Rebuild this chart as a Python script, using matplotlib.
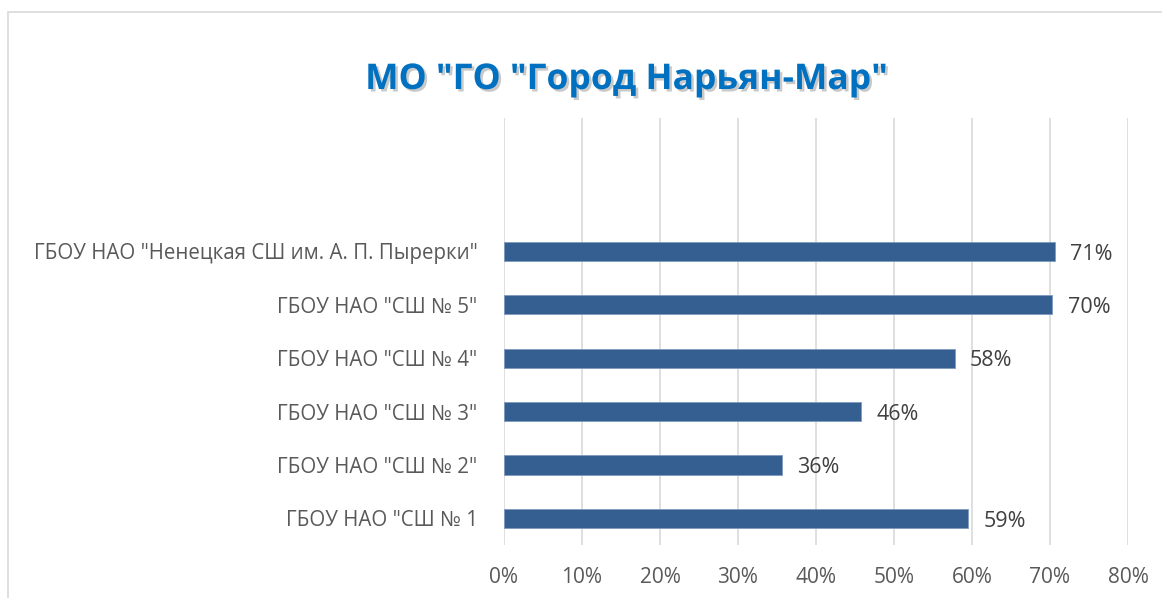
import matplotlib
matplotlib.use("Agg")
import matplotlib.pyplot as plt
import matplotlib.patheffects as pe
from matplotlib.patches import Rectangle

categories = ['ГБОУ НАО "СШ № 1', 'ГБОУ НАО "СШ № 2"', 'ГБОУ НАО "СШ № 3"',
              'ГБОУ НАО "СШ № 4"', 'ГБОУ НАО "СШ № 5"',
              'ГБОУ НАО "Ненецкая СШ им. А. П. Пырерки"']
values = [0.595, 0.356, 0.458, 0.578, 0.703, 0.706]
value_labels = ['59%', '36%', '46%', '58%', '70%', '71%']
xticks = [0, 0.1, 0.2, 0.3, 0.4, 0.5, 0.6, 0.7, 0.8]
xtick_labels = ['0%', '10%', '20%', '30%', '40%', '50%', '60%', '70%', '80%']
title = 'МО "ГО "Город Нарьян-Мар"'

W, H = 1162, 598
fig = plt.figure(figsize=(W / 100, H / 100), dpi=100)
fig.patch.set_facecolor('white')

# chart border
fig.patches.append(Rectangle((8 / W, -0.2), 1.2, 1.2 - 12 / H, transform=fig.transFigure,
                             fill=False, edgecolor='#D9D9D9', linewidth=1.2))

left, right, top, bottom = 504, 1128, 118, 545
ax = fig.add_axes([left / W, 1 - bottom / H, (right - left) / W, (bottom - top) / H])
n_slots = 8
ypos = list(range(len(categories)))
ax.barh(ypos, values, height=0.36, color='#355F91', edgecolor='#7F9AC0', linewidth=0.6, zorder=3)
ax.set_xlim(0, 0.8)
ax.set_ylim(-0.5, n_slots - 0.5)
ax.set_xticks(xticks)
ax.set_xticklabels(xtick_labels, fontsize=15, color='#595959', family='Open Sans')
ax.set_yticks(ypos)
ax.set_yticklabels(categories, fontsize=14.8, color='#595959', family='Open Sans')
ax.tick_params(axis='x', length=0, pad=16)
ax.tick_params(axis='y', length=0, pad=19)
ax.grid(axis='x', color='#D9D9D9', linewidth=1.2, zorder=0)
for s in ax.spines.values():
    s.set_visible(False)

for y, v, lab in zip(ypos, values, value_labels):
    ax.annotate(lab, (v, y), xytext=(11, -2), textcoords='offset points',
                ha='left', va='center', fontsize=15.5, color='#404040', family='Open Sans')

fig.text(626 / W, 1 - 80 / H, title, ha='center', va='center', fontsize=25.5,
         fontweight='bold', color='#0070C0', family='Open Sans',
         path_effects=[pe.withSimplePatchShadow(offset=(1.8, -1.8), shadow_rgbFace='#666666', alpha=0.35)])

fig.savefig('out.png', dpi=100, facecolor='white')
